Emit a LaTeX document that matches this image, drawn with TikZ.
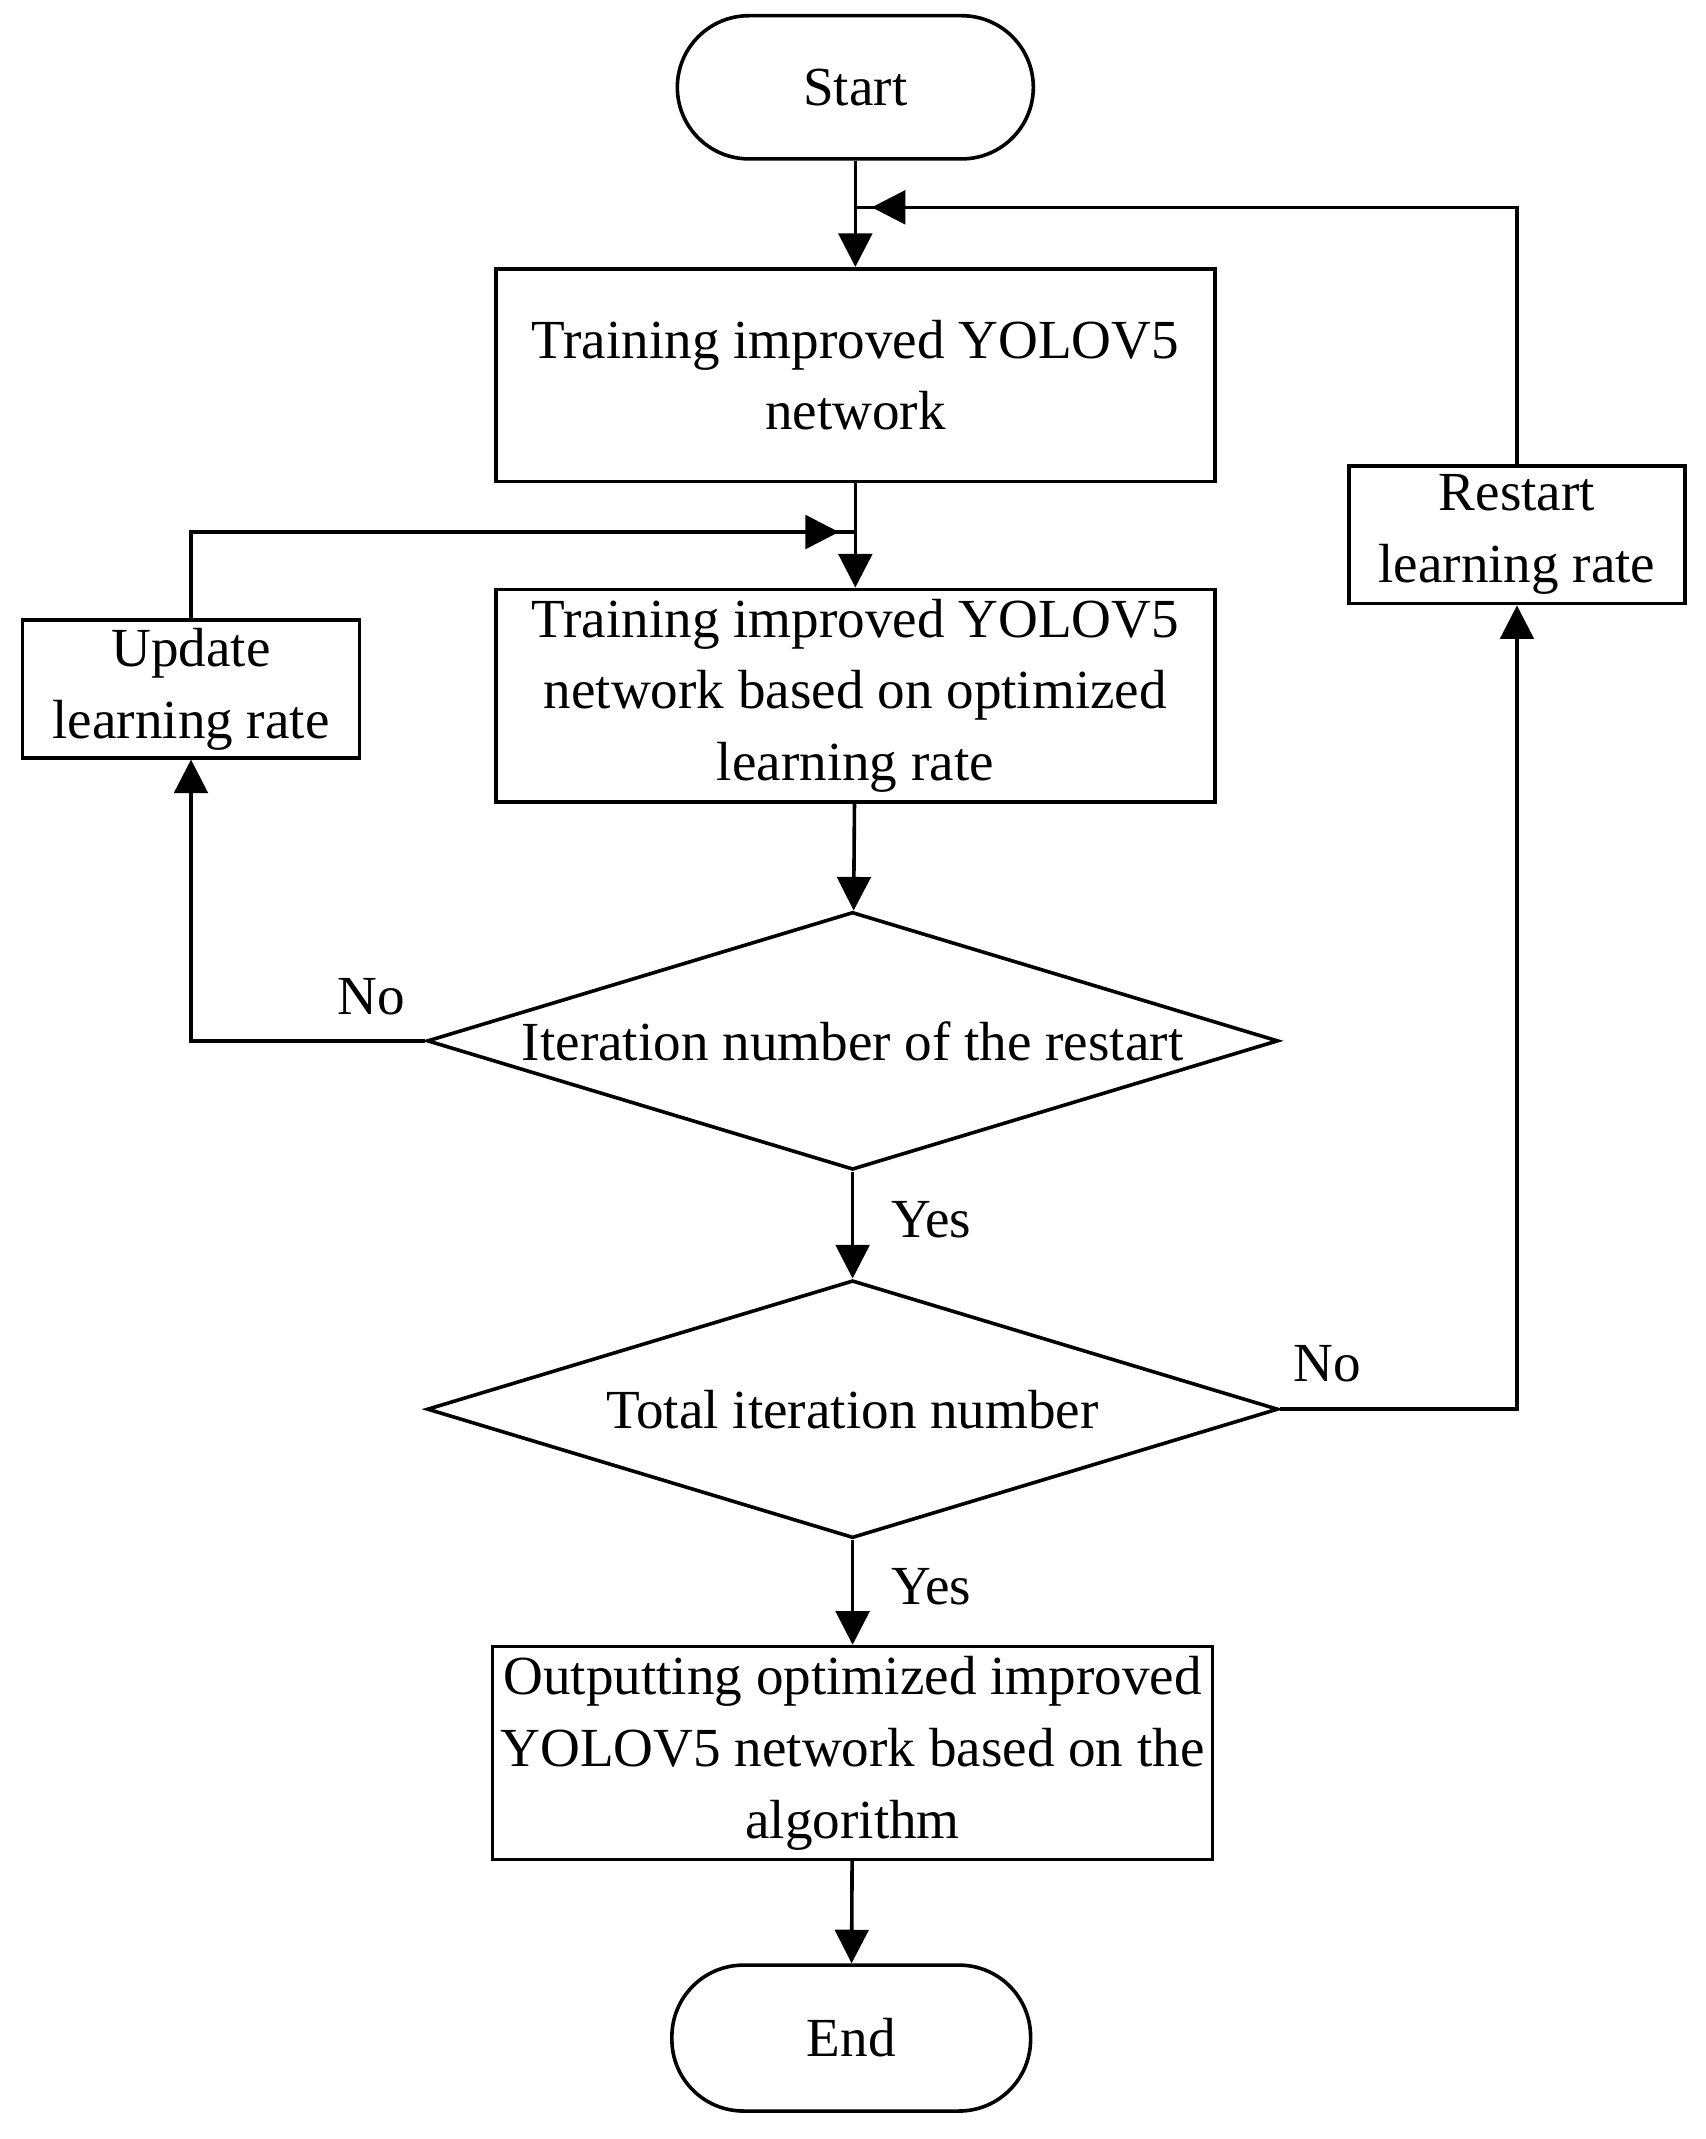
\documentclass[tikz,border=0pt]{standalone}
\usepackage{fontspec}
\setmainfont{Liberation Serif}
\usetikzlibrary{shapes.geometric,arrows.meta}
\begin{document}
\begin{tikzpicture}[x=0.02cm,y=-0.02cm,
  every node/.style={font=\fontsize{23}{30}\selectfont},
  box/.style={draw,line width=1.5pt,align=center,inner sep=0pt},
  term/.style={draw,line width=1.5pt,rounded rectangle,minimum width=5.22cm,minimum height=2.1cm,inner sep=0pt},
  dia/.style={draw,line width=1.5pt,diamond,aspect=3.3,minimum width=12.48cm,minimum height=3.78cm,inner sep=0pt},
  arr/.style={line width=1.5pt,-{Triangle[length=14pt,width=14pt]}},
  ln/.style={line width=1.5pt}]
\useasboundingbox (0,0) rectangle (1250,1568);
\tikzset{rounded rectangle/.style={rounded corners=1.05cm}}
\node[box,rounded corners=1.05cm,minimum width=5.22cm,minimum height=2.1cm] (start) at (627,64) {Start};
\node[box,minimum width=10.54cm,minimum height=3.12cm] (b1) at (627,275) {Training improved YOLOV5\\network};
\node[box,minimum width=4.92cm,minimum height=2.02cm] (rs) at (1112,392) {Restart\\learning rate};
\node[box,minimum width=10.54cm,minimum height=3.12cm] (b2) at (627,510) {Training improved YOLOV5\\network based on optimized\\learning rate};
\node[box,minimum width=4.94cm,minimum height=2.02cm] (up) at (140,505) {Update\\learning rate};
\node[dia,label={center:Iteration number of the restart}] (d1) at (625,763) {};
\node[dia,label={center:Total iteration number}] (d2) at (625,1033) {};
\node[box,minimum width=10.56cm,minimum height=3.12cm] (b3) at (625,1285) {Outputting optimized improved\\YOLOV5 network based on the\\algorithm};
\node[box,rounded corners=1.05cm,minimum width=5.26cm,minimum height=2.14cm] (end) at (624,1494) {End};
\coordinate (m1) at (627,152);
\coordinate (m2) at (627,390);
\draw[arr] (start) -- (b1);
\draw[arr] (b1) -- (b2);
\draw[arr] (b2) -- (d1);
\draw[arr] (d1) -- node[right=12pt,pos=0.45]{Yes} (d2);
\draw[arr] (d2) -- node[right=12pt,pos=0.45]{Yes} (b3);
\draw[arr] (b3) -- (end);
\draw[arr] (d1.west) -| (up.south);
\node at (272,731) {No};
\draw[ln] (up.north) |- (m2);
\draw[arr] (up.north |- m2) -- ([xshift=-0.24cm]m2);
\draw[arr] (d2.east) -| (rs.south);
\node at (973,1000) {No};
\draw[ln] (rs.north) |- (m1);
\draw[arr] (rs.north |- m1) -- ([xshift=0.24cm]m1);
\end{tikzpicture}
\end{document}
